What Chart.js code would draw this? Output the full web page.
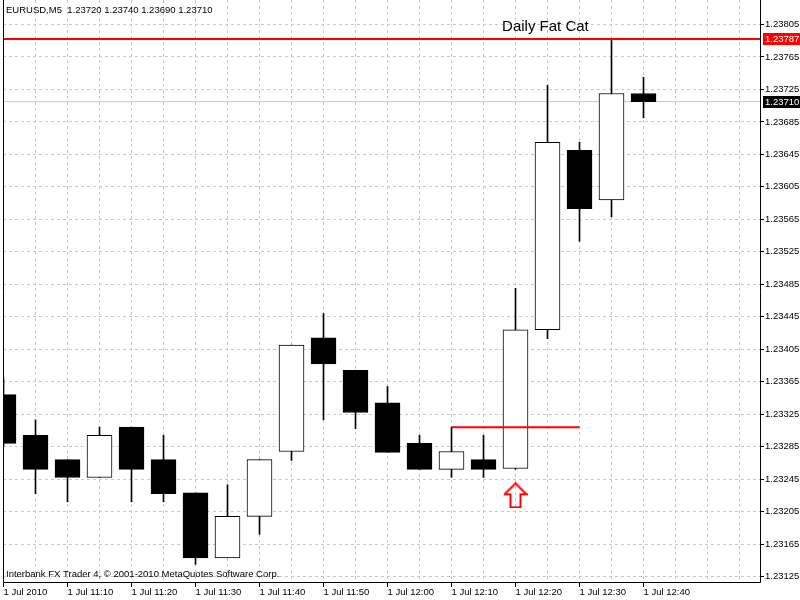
<!DOCTYPE html>
<html>
<head>
<meta charset="utf-8">
<title>EURUSD,M5</title>
<script src="https://cdn.jsdelivr.net/npm/chart.js@4.4.1/dist/chart.umd.min.js"></script>
<style>
  html, body { margin: 0; padding: 0; background: #fff; }
</style>
</head>
<body>
<canvas id="chart" width="800" height="600"></canvas>
<script>
// --- data (EURUSD M5, 1 Jul 2010) ---
const symbol = "EURUSD,M5";
const footerText = "Interbank FX Trader 4, \u00a9 2001-2010 MetaQuotes Software Corp.";
const barTimes = ["11:00", "11:05", "11:10", "11:15", "11:20", "11:25", "11:30", "11:35", "11:40", "11:45",
  "11:50", "11:55", "12:00", "12:05", "12:10", "12:15", "12:20", "12:25", "12:30", "12:35", "12:40"];
const openP  = [1.23349, 1.23299, 1.23269, 1.23247, 1.23309, 1.23269, 1.23228, 1.23148, 1.23199, 1.23279,
  1.23419, 1.23379, 1.23339, 1.23289, 1.23257, 1.23269, 1.23258, 1.23429, 1.23650, 1.23589, 1.23720];
const highP  = [1.23370, 1.23318, 1.23269, 1.23309, 1.23309, 1.23299, 1.23228, 1.23238, 1.23269, 1.23410,
  1.23449, 1.23379, 1.23359, 1.23299, 1.23309, 1.23299, 1.23480, 1.23730, 1.23660, 1.23787, 1.23740];
const lowP   = [1.23286, 1.23227, 1.23217, 1.23247, 1.23217, 1.23217, 1.23140, 1.23148, 1.23177, 1.23268,
  1.23318, 1.23307, 1.23278, 1.23257, 1.23247, 1.23247, 1.23257, 1.23418, 1.23538, 1.23568, 1.23690];
const closeP = [1.23289, 1.23257, 1.23247, 1.23299, 1.23257, 1.23227, 1.23148, 1.23199, 1.23269, 1.23410,
  1.23387, 1.23327, 1.23278, 1.23257, 1.23279, 1.23257, 1.23429, 1.23660, 1.23578, 1.23720, 1.23710];
// one time label every second bar
const timeTickLabels = ["1 Jul 2010", "1 Jul 11:10", "1 Jul 11:20", "1 Jul 11:30", "1 Jul 11:40", "1 Jul 11:50",
  "1 Jul 12:00", "1 Jul 12:10", "1 Jul 12:20", "1 Jul 12:30", "1 Jul 12:40"];
const priceTicks = [1.23125, 1.23165, 1.23205, 1.23245, 1.23285, 1.23325, 1.23365, 1.23405, 1.23445,
  1.23485, 1.23525, 1.23565, 1.23605, 1.23645, 1.23685, 1.23725, 1.23765, 1.23805];

// objects on the chart
const alertLevel = 1.23787;
const alertText = "Daily Fat Cat";
const bidPrice = 1.23710;
const breakoutLevel = 1.23309;
const breakoutBars = [14, 18];
const arrowBar = 16;
const arrowPrice = 1.23225;

// --- geometry of the MT4 window ---
const xMin = -0.015625, xMax = 23.671875;          // 32 px per bar
const yMax = 1.23805 + 24.5 / 81176;                 // ~81 px per 0.001
const yMin = yMax - 583 / 81176;
const smallFont = '"Liberation Sans", Arial, sans-serif';

const fmt = (v) => v.toFixed(5);
const last = closeP.length - 1;
const header = symbol + "  " + fmt(openP[last]) + " " + fmt(highP[last]) + " " + fmt(lowP[last]) + " " + fmt(closeP[last]);

const bodies = barTimes.map((t, i) => ({ x: i, y: [openP[i], closeP[i]] }));
const wicks = barTimes.map((t, i) => ({ x: i, y: [lowP[i], highP[i]] }));
const slots = [];
for (let i = 0; i <= Math.floor(xMax); i++) slots.push(i);

// red up arrow drawn as a point style
const arrow = document.createElement("canvas");
arrow.width = 24;
arrow.height = 26;
(function () {
  const c = arrow.getContext("2d");
  c.strokeStyle = "#ff0000";
  c.lineWidth = 2;
  c.beginPath();
  c.moveTo(12, 1);
  c.lineTo(23, 12);
  c.lineTo(17, 12);
  c.lineTo(17, 25);
  c.lineTo(7, 25);
  c.lineTo(7, 12);
  c.lineTo(1, 12);
  c.closePath();
  c.stroke();
})();

const overlay = {
  id: "overlay",
  afterDatasetsDraw(chart) {
    const { ctx, chartArea: a, scales: { x, y } } = chart;
    ctx.save();
    // frame
    ctx.strokeStyle = "#000";
    ctx.lineWidth = 1;
    ctx.beginPath();
    ctx.moveTo(a.left + 0.5, a.top);
    ctx.lineTo(a.left + 0.5, a.bottom - 0.5);
    ctx.lineTo(a.right - 0.5, a.bottom - 0.5);
    ctx.lineTo(a.right - 0.5, a.top);
    ctx.stroke();

    ctx.fillStyle = "#000";
    ctx.textAlign = "left";
    ctx.textBaseline = "alphabetic";
    ctx.font = "9.5px " + smallFont;
    ctx.fillText(header, 6, 13);
    ctx.fillText(footerText, 6, 577);

    ctx.font = "15px " + smallFont;
    ctx.fillText(alertText, x.getPixelForValue(15.58), y.getPixelForValue(1.23797));

    // price tags on the right scale
    const tag = (price, bg) => {
      const py = Math.round(y.getPixelForValue(price));
      ctx.fillStyle = bg;
      ctx.fillRect(a.right + 2, py - 6, 37, 12);
      ctx.fillStyle = "#fff";
      ctx.font = "9.5px " + smallFont;
      ctx.textBaseline = "middle";
      ctx.fillText(fmt(price), a.right + 4, py + 0.5);
    };
    tag(alertLevel, "#ff0000");
    tag(bidPrice, "#000");
    ctx.restore();
  }
};

Chart.defaults.font.family = smallFont;
Chart.defaults.font.size = 9.5;
Chart.defaults.color = "#000";

new Chart(document.getElementById("chart"), {
  type: "bar",
  data: {
    datasets: [
      {
        label: "Body",
        data: bodies,
        order: 0,
        grouped: false,
        barThickness: 25,
        borderWidth: 1,
        borderColor: "#000",
        borderSkipped: false,
        backgroundColor: (c) => (closeP[c.dataIndex] >= openP[c.dataIndex] ? "#fff" : "#000"),
      },
      {
        label: "Wick",
        data: wicks,
        order: 1,
        grouped: false,
        barThickness: 1,
        borderWidth: 0,
        backgroundColor: "#000",
      },
      {
        type: "line",
        label: "Bid",
        data: [{ x: xMin, y: bidPrice }, { x: xMax, y: bidPrice }],
        borderColor: "#c8c8c8",
        borderWidth: 1,
        pointRadius: 0,
        order: 2,
      },
      {
        type: "line",
        label: alertText,
        data: [{ x: xMin, y: alertLevel }, { x: xMax, y: alertLevel }],
        borderColor: "#ff0000",
        borderWidth: 2,
        pointRadius: 0,
        order: -1,
      },
      {
        type: "line",
        label: "Breakout",
        data: [{ x: breakoutBars[0], y: breakoutLevel }, { x: breakoutBars[1], y: breakoutLevel }],
        borderColor: "#ff0000",
        borderWidth: 2,
        pointRadius: 0,
        order: -1,
      },
      {
        type: "line",
        label: "Arrow",
        data: [{ x: arrowBar, y: arrowPrice }],
        showLine: false,
        pointStyle: arrow,
        pointRadius: 5,
        order: -2,
      },
    ],
  },
  options: {
    responsive: false,
    animation: false,
    layout: { autoPadding: false, padding: { left: 3, right: 0, top: 0, bottom: 0 } },
    plugins: { legend: { display: false }, tooltip: { enabled: false } },
    scales: {
      x: {
        type: "linear",
        min: xMin,
        max: xMax,
        offset: false,
        afterBuildTicks: (s) => { s.ticks = slots.map((v) => ({ value: v })); },
        afterFit: (s) => { s.height = 17; s.paddingLeft = 0; s.paddingRight = 0; },
        ticks: {
          autoSkip: false,
          maxRotation: 0,
          minRotation: 0,
          align: "start",
          padding: 0,
          callback: (v) => {
            const i = Math.round(v);
            return i % 2 === 0 && i / 2 < timeTickLabels.length ? timeTickLabels[i / 2] : "";
          },
        },
        grid: {
          offset: false,
          color: "#c8c8c8",
          lineWidth: 1,
          tickLength: 4,
          tickColor: (c) => (c.index % 2 === 0 && c.index / 2 < timeTickLabels.length ? "#000" : "rgba(0,0,0,0)"),
        },
        border: { display: false, dash: [3, 3] },
      },
      y: {
        type: "linear",
        position: "right",
        min: yMin,
        max: yMax,
        afterBuildTicks: (s) => { s.ticks = priceTicks.map((v) => ({ value: v })); },
        afterFit: (s) => { s.width = 39; s.paddingTop = 0; s.paddingBottom = 0; },
        ticks: {
          padding: 1,
          callback: (v) => fmt(v),
        },
        grid: {
          color: "#c8c8c8",
          lineWidth: 1,
          tickLength: 3,
          tickColor: "#000",
        },
        border: { display: false, dash: [3, 3] },
      },
    },
  },
  plugins: [overlay],
});
</script>
</body>
</html>
